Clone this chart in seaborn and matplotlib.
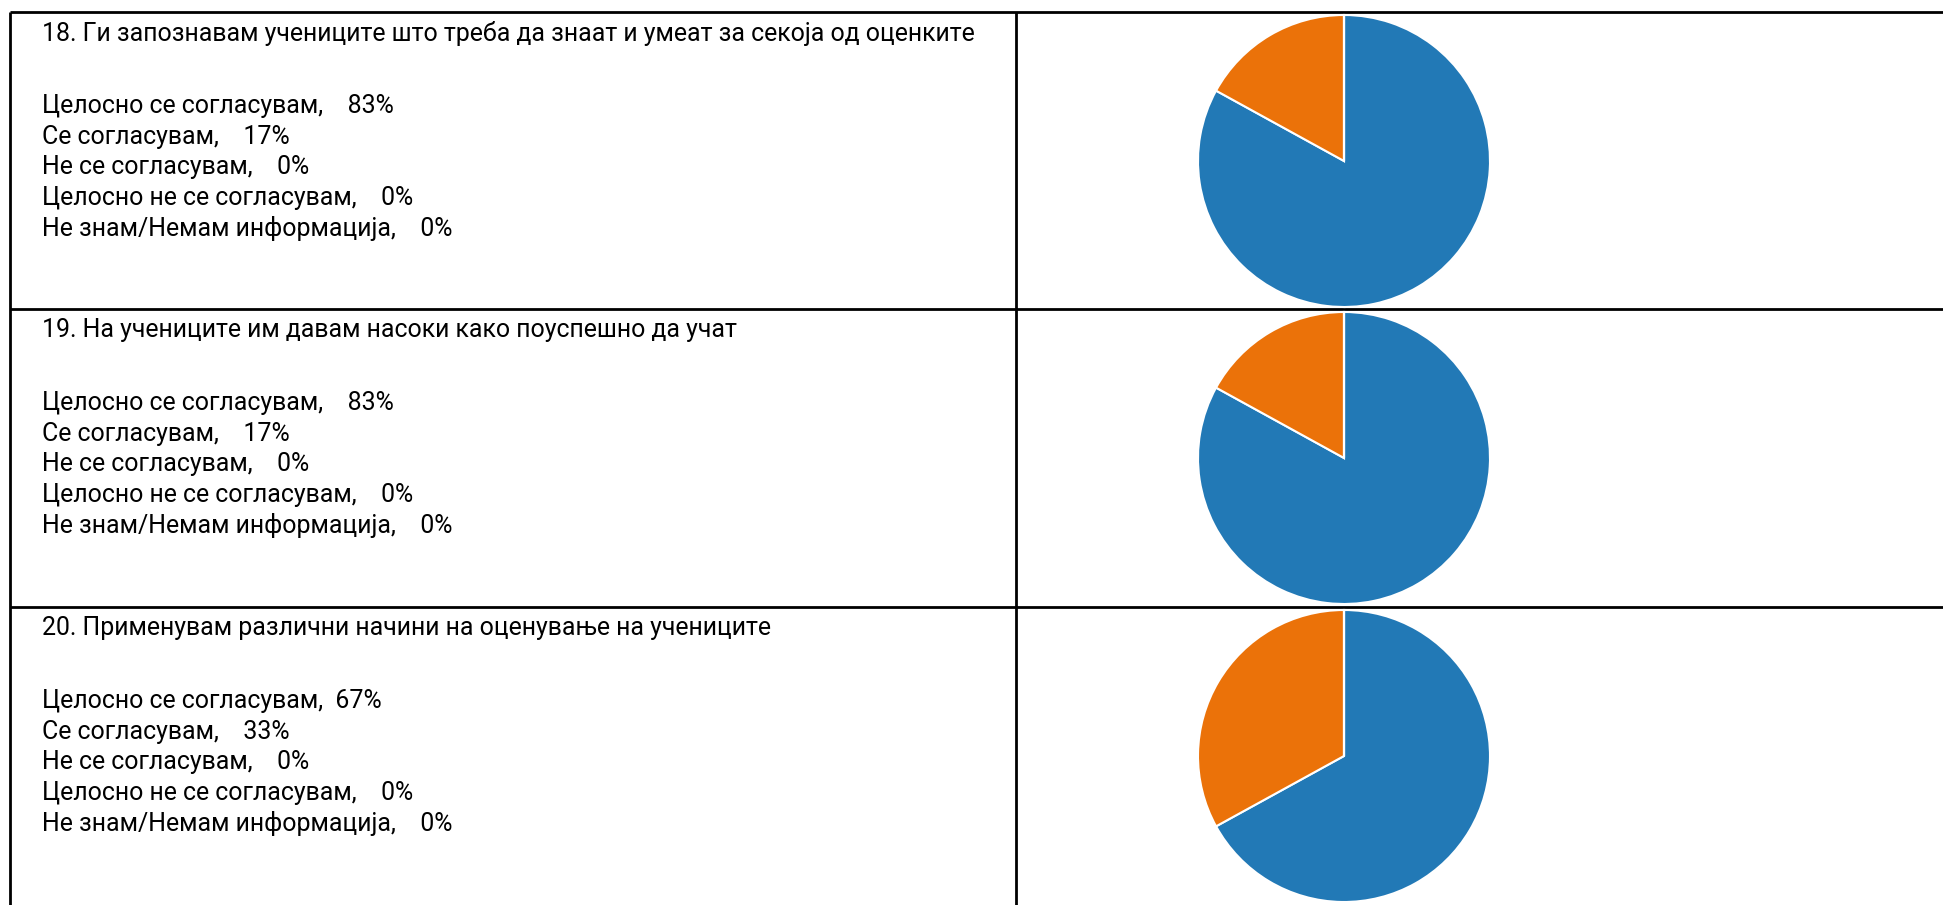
import numpy as np
import matplotlib
matplotlib.use("Agg")
import matplotlib.pyplot as plt
import seaborn as sns


questions = [
    "18. Ги запознавам учениците што треба да знаат и умеат за секоја од оценките",
    "19. На учениците им давам насоки како поуспешно да учат",
    "20. Применувам различни начини на оценување на учениците",
]
categories = [
    "Целосно се согласувам",
    "Се согласувам",
    "Не се согласувам",
    "Целосно не се согласувам",
    "Не знам/Немам информација",
]
q18_pct = [83, 17, 0, 0, 0]
q19_pct = [83, 17, 0, 0, 0]
q20_pct = [67, 33, 0, 0, 0]
all_pct = [q18_pct, q19_pct, q20_pct]

sns.set_theme(style="white")
plt.rcParams["font.family"] = ["Roboto", "DejaVu Sans"]

colors = sns.color_palette(["#2279b6", "#eb7209", "#a5a5a5", "#ffc000", "#5b9bd5"])

W, H = 1943, 905
fig = plt.figure(figsize=(W / 100, H / 100), dpi=100)
bg = fig.add_axes([0, 0, 1, 1])
bg.set_xlim(0, W)
bg.set_ylim(H, 0)
bg.axis("off")

# table grid
row_tops = [12, 309, 607]
left_x, mid_x = 10, 1016
lw = 2.0
for y in row_tops:
    bg.plot([left_x, W], [y, y], color="black", lw=lw, solid_capstyle="butt")
for x in [left_x, mid_x]:
    bg.plot([x, x], [row_tops[0], H], color="black", lw=lw, solid_capstyle="butt")

# fit text size so the first question spans the same width as the reference
fs = 16
probe = bg.text(42, 0, questions[0], fontsize=fs)
fig.canvas.draw()
fs = fs * 937 / probe.get_window_extent().width
probe.remove()

line_gap = 30.6
for top, q, pct in zip(row_tops, questions, all_pct):
    bg.text(42, top + 21, q, fontsize=fs, va="center", ha="left", color="black")
    for i, (cat, p) in enumerate(zip(categories, pct)):
        sep = "  " if (i == 0 and p < 80) else "    "
        bg.text(42, top + 94 + i * line_gap, f"{cat},{sep}{p}%",
                fontsize=fs, va="center", ha="left", color="black")

    # pie for this question
    cx, cy, r = 1344, top + 149, 146
    ax = fig.add_axes([(cx - r) / W, 1 - (cy + r) / H, 2 * r / W, 2 * r / H])
    ax.pie(pct, colors=colors, startangle=90, counterclock=False,
           wedgeprops=dict(edgecolor="white", linewidth=1.5))
    ax.set_xlim(-1.0, 1.0)
    ax.set_ylim(-1.0, 1.0)
    ax.axis("off")

fig.savefig("out.png", dpi=100)
